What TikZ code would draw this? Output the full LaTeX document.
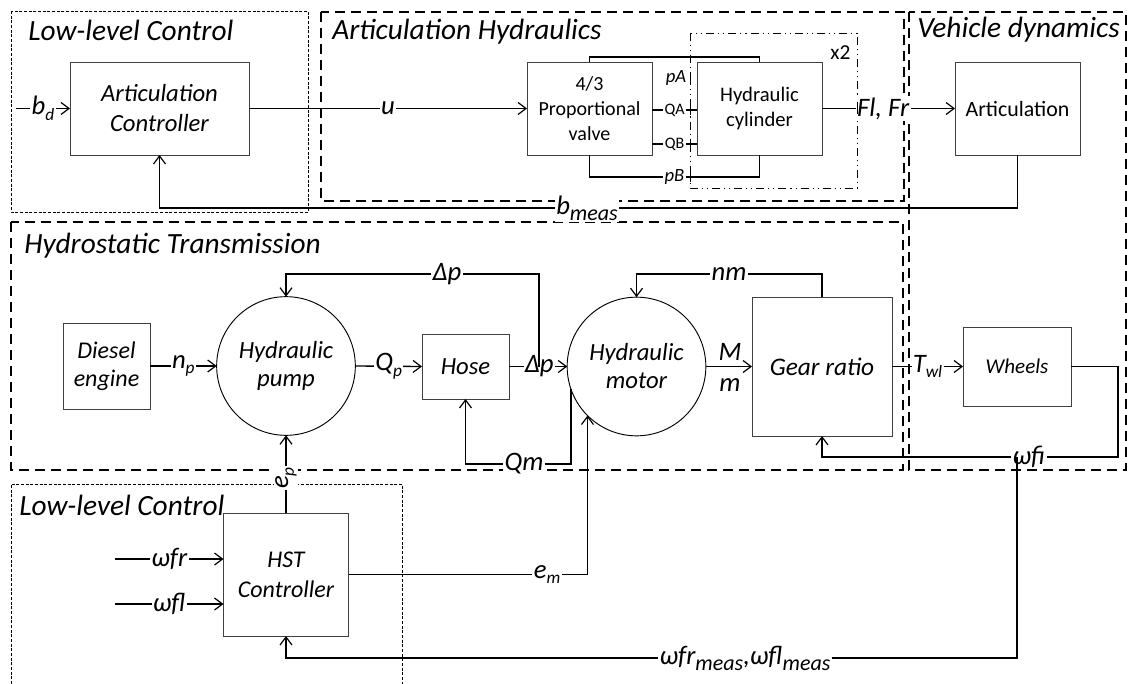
\documentclass[tikz,border=0pt]{standalone}
\usepackage{fontspec}
\setmainfont{Carlito}
\usetikzlibrary{arrows.meta,calc}
\newcommand\fs[1]{\fontsize{#1}{#1}\selectfont}
\newcommand\fsl[2]{\fontsize{#1}{#2}\selectfont}
\newcommand\sbs[1]{\raisebox{-0.22em}{\fs{13}#1}}
\newcommand\sbm[1]{\raisebox{-0.22em}{\fs{16.5}#1}}
\begin{document}
\begin{tikzpicture}[x=0.75pt,y=-0.75pt,
  blk/.style={draw=black!75,line width=0.7pt,inner sep=0pt,outer sep=0pt,align=center},
  circ/.style={draw=black,line width=0.7pt,circle,inner sep=0pt,outer sep=0pt,align=center,minimum size=104pt},
  conn/.style={draw=black,line width=1pt},
  arr/.style={-{Straight Barb[length=6pt,width=9pt,line width=0.9pt]}},
  lbl/.style={fill=white,inner sep=1pt,font=\fs{20}\itshape},
  plbl/.style={fill=white,inner sep=1pt,font=\fs{14}\itshape},
  qlbl/.style={fill=white,inner sep=1pt,font=\fs{12}},
  grpbig/.style={draw=black,line width=1pt,dash pattern=on 7.5pt off 4.5pt},
  grpfine/.style={draw=black,line width=0.5pt,dash pattern=on 2.2pt off 1.3pt},
  grpdd/.style={draw=black,line width=0.6pt,dash pattern=on 6pt off 3pt on 0.8pt off 3pt on 0.8pt off 3pt},
  title/.style={anchor=base west,inner sep=0pt,font=\fs{22}\itshape}]
\useasboundingbox (0,0) rectangle (1130,684);

% groups
\draw[grpfine] (11,11) rectangle (308,212);
\draw[grpbig] (321,12) rectangle (904,201);
\draw[grpbig] (909,12) rectangle (1126,470);
\draw[grpbig] (11,222) rectangle (903,470);
\draw[grpfine] (11,684) -- (11,484) -- (402,484) -- (402,684);
\draw[grpdd] (690,33) rectangle (857,188);

\node[title] (t1) at (28,41) {Low-level Control};
\node[title] (t2) at (332,40) {Articulation Hydraulics};
\node[title] (t3) at (917,38) {Vehicle dynamics};
\node[title] (t4) at (24,253) {Hydrostatic Transmission};
\node[title] (t5) at (19,515) {Low-level Control};
\node[anchor=base west,inner sep=0pt,font=\fs{16}] (x2) at (830,60) {x2};

% blocks
\node[blk,minimum width=134.25pt,minimum height=69.75pt,font=\fsl{18.5}{22.5}\itshape] (ac) at (159.5,108.5) {Articulation\\Controller};
\node[blk,minimum width=93.75pt,minimum height=69.75pt,font=\fsl{15}{18.75}] (valve) at (589.5,108.5) {4/3\\Proportional\\valve};
\node[blk,minimum width=93.75pt,minimum height=69.75pt,font=\fsl{15.5}{18.75}] (cyl) at (759.5,108.5) {Hydraulic\\cylinder};
\node[blk,minimum width=93.75pt,minimum height=69.75pt,font=\fs{16.4}] (art) at (1017.5,108.5) {Articulation};
\node[blk,minimum width=65.25pt,minimum height=64.5pt,font=\fsl{18}{21}\itshape] (eng) at (106.5,366) {Diesel\\engine};
\node[circ,font=\fsl{18.5}{21}\itshape] (pump) at (286,366) {Hydraulic\\pump};
\node[blk,minimum width=65.25pt,minimum height=48.75pt,font=\fs{18.5}\itshape] (hose) at (465.5,366.5) {Hose};
\node[circ,font=\fsl{18.5}{21}\itshape] (motor) at (636.5,366.5) {Hydraulic\\motor};
\node[blk,minimum width=105pt,minimum height=104.25pt,font=\fs{19}\itshape] (gear) at (822,366.5) {Gear ratio};
\node[blk,minimum width=81pt,minimum height=59.25pt,font=\fs{15.8}\itshape] (wheels) at (1017,366.5) {Wheels};
\node[blk,minimum width=93.75pt,minimum height=92.25pt,font=\fsl{18}{22.5}\itshape] (hst) at (286,574.5) {HST\\Controller};

% articulation loop
\coordinate (bdin) at (16,108.5);
\draw[conn,arr] (bdin) -- node[lbl]{b\sbs{d}} (ac.west);
\draw[conn,arr] (ac.east) -- node[lbl,pos=0.5]{u} (valve.west);
\draw[conn] (valve.north) -- ++(0,-5) -| (cyl.north);
\draw[conn] (valve.east |- 0,110) -- node[qlbl]{QA} (cyl.west |- 0,110);
\draw[conn] (valve.east |- 0,144) -- node[qlbl]{QB} (cyl.west |- 0,144);
\draw[conn] (valve.south) -- ++(0,22) -| node[plbl,pos=0.25]{pB} (cyl.south);
\node[plbl] (pA) at (676,78) {pA};
\draw[line width=0.6pt] (690,73) -- (690,84);
\draw[line width=0.6pt] (690,105) -- (690,115);
\draw[line width=0.6pt] (690,139) -- (690,149);
\draw[line width=0.6pt] (690,172) -- (690,182);
\draw[conn,arr] (cyl.east) -- node[lbl,pos=0.46]{Fl, Fr} (art.west);
\draw[line width=0.6pt] (857,102) -- (857,114);
\draw[conn,arr] (art.south) -- ++(0,53) -| (ac.south);
\node[lbl] (bm) at (587,208) {b\sbm{meas}};

% hydrostatic transmission
\draw[conn,arr] (eng.east) -- node[lbl]{n\sbs{p}} (pump.west);
\draw[conn,arr] (pump.east) -- node[lbl]{Q\sbs{p}} (hose.west);
\draw[conn,arr] (hose.east) -- node[lbl,pos=0.52]{Δp} (motor.west);
\coordinate (dpj) at (539,366.5);
\draw[conn,arr] (dpj) -- (539,274) -| (pump.north);
\node[lbl] (dp2) at (447,274) {Δp};
\draw[conn,arr] (gear.north) -- (822,274) -| (motor.north);
\node[lbl] (nm) at (729,274) {nm};
\draw[conn,arr] (motor.east) -- (gear.west);
\node[inner sep=0pt,font=\fs{20}\itshape] (mM) at (730,352) {M};
\node[inner sep=0pt,font=\fs{20}\itshape] (mm) at (730,385) {m};
\draw[conn,arr] (motor.199) -- (motor.199 |- 0,464) -| (hose.south);
\node[lbl] (qm) at (524,464) {Qm};
\draw[conn,arr] (gear.east) -- node[lbl]{T\sbs{wl}} (wheels.west);
\draw[conn,arr] (wheels.east) -- (1118,366.5) -- (1118,457) -| (gear.south);
\coordinate (wj) at (1017,457);
\node[lbl] (wfi) at (1029,457) {ωfi};

% HST controller
\draw[conn,arr] (hst.north) -- (pump.south);
\node[lbl,rotate=90] (ep) at (286,478) {e\sbs{p}};
\draw[conn,arr] (hst.east) -| (motor.225);
\node[lbl] (em) at (547,574.5) {e\sbs{m}};
\coordinate (wfr) at (115,559);
\coordinate (wfl) at (115,604);
\draw[conn,arr] (wfr) -- node[lbl]{ωfr} (hst.west |- wfr);
\draw[conn,arr] (wfl) -- node[lbl]{ωfl} (hst.west |- wfl);
\draw[conn,arr] (wj) -- (1017,658) -| (hst.south);
\node[lbl] (wmeas) at (745,658) {ωfr\sbm{meas},ωfl\sbm{meas}};
\end{tikzpicture}
\end{document}
